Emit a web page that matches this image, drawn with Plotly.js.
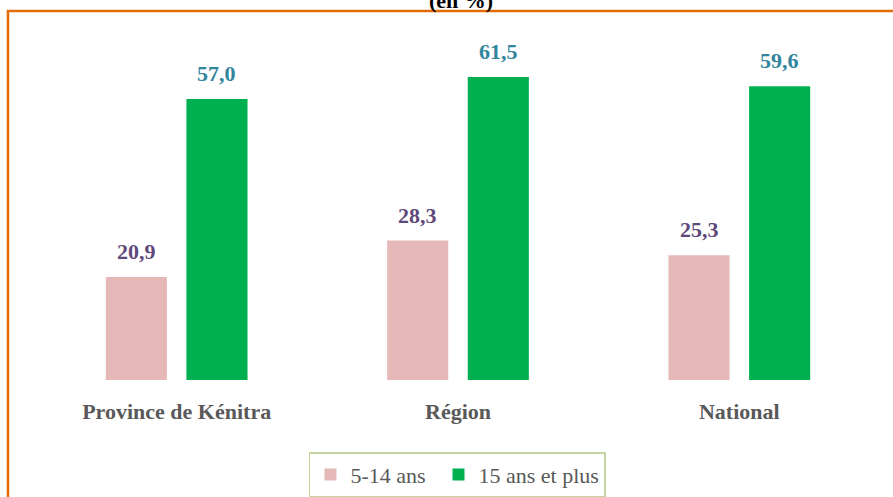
<!DOCTYPE html>
<html>
<head>
<meta charset="utf-8">
<script src="https://cdn.plot.ly/plotly-3.0.1.min.js"></script>
<style>html,body{margin:0;padding:0;background:#fff;}#chart{width:893px;height:497px;}</style>
</head>
<body>
<div id="chart"></div>
<script>
const categories = ["Province de Kénitra", "Région", "National"];
const seriesNames = ["5-14 ans", "15 ans et plus"];
const values514 = [20.9, 28.3, 25.3];
const values15plus = [57.0, 61.5, 59.6];
const titleText = "(en %)";

const fmt = v => v.toFixed(1).replace(".", ",");
const serif = "Times New Roman";

const traces = [
  {type: "bar", name: seriesNames[0], x: categories, y: values514,
   marker: {color: "#e6b9b8"}, hoverinfo: "none", legendwidth: 83},
  {type: "bar", name: seriesNames[1], x: categories, y: values15plus,
   marker: {color: "#00b050"}, hoverinfo: "none"}
];

const annotations = [];
categories.forEach((c, i) => {
  annotations.push({x: c, y: values514[i], xref: "x", yref: "y", text: "<b>" + fmt(values514[i]) + "</b>",
    showarrow: false, xshift: -40.25, yanchor: "bottom", yshift: 11,
    font: {family: serif, size: 22, color: "#5f497a"}});
  annotations.push({x: c, y: values15plus[i], xref: "x", yref: "y", text: "<b>" + fmt(values15plus[i]) + "</b>",
    showarrow: false, xshift: 40.25, yanchor: "bottom", yshift: 11,
    font: {family: serif, size: 22, color: "#31859c"}});
});
annotations.push({x: 0.503, y: 1.0696, xref: "paper", yref: "paper", text: "<b>" + titleText + "</b>",
  showarrow: false, yanchor: "bottom", yshift: -4, font: {family: serif, size: 22, color: "#000"}});

const layout = {
  width: 893, height: 497,
  margin: {l: 36, r: 13, t: 35, b: 117, autoexpand: false},
  paper_bgcolor: "#fff", plot_bgcolor: "#fff",
  barmode: "group", bargap: 0.427, bargroupgap: 0.242,
  xaxis: {showgrid: false, showline: false, zeroline: false, ticks: "", automargin: false,
    tickfont: {family: serif, size: 22, color: "#595959", weight: "bold"}, ticklabelstandoff: 16},
  yaxis: {range: [0, 70], visible: false, showgrid: false, zeroline: false, automargin: false},
  showlegend: true,
  legend: {orientation: "h", x: 0.4994, xanchor: "center", y: -0.209, yanchor: "top",
    font: {family: serif, size: 22, color: "#595959"},
    bordercolor: "#c3d69b", borderwidth: 1.5, bgcolor: "#fff",
    itemwidth: 30, tracegroupgap: 0},
  annotations: annotations,
  shapes: [{type: "rect", xref: "paper", yref: "paper", x0: -0.0332, x1: 1.2, y0: -0.6, y1: 1.0696,
    line: {color: "#e36c09", width: 2.5}, fillcolor: "rgba(0,0,0,0)", layer: "below"}]
};

Plotly.newPlot("chart", traces, layout, {displayModeBar: false, staticPlot: true});
</script>
</body>
</html>
